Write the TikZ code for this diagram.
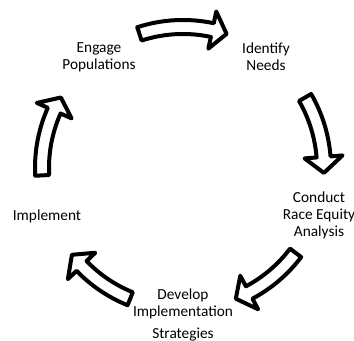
\documentclass[tikz,border=0pt]{standalone}
\usepackage{fontspec}
\setmainfont{Carlito}
\tikzset{
    cyclearrow/.style={draw=black,fill=white,line width=3pt,line join=round},
    steplabel/.style={align=center,inner sep=0pt,font=\fontsize{11.5}{12.8}\selectfont}
}
\begin{document}
\begin{tikzpicture}[x=0.75pt,y=0.75pt]
    \useasboundingbox (-183,-173) rectangle (171,168);

    % Step labels
    \node (engage) at (-84,111) [steplabel] {Engage\\Populations};
    \node (identify) at (83,111) [steplabel] {Identify\\Needs};
    \node (conduct) at (136,-47) [steplabel] {Conduct\\Race Equity\\Analysis};
    \node (develop) at (0,-147) [steplabel] {Develop\\Implementation\\[3pt]Strategies};
    \node (implement) at (-136,-48) [steplabel] {Implement};

    % Engage -> Identify
    \draw [cyclearrow] (108:148) arc [start angle=108,end angle=78,radius=148]
        -- (78:160) -- (72:141) -- (78:122) -- (78:134)
        arc [start angle=78,end angle=108,radius=134] -- cycle;

    % Identify -> Conduct
    \draw [cyclearrow] (30:148) arc [start angle=30,end angle=4.5,radius=148]
        -- (4.5:160) -- (-2:141) -- (4.5:122) -- (4.5:134)
        arc [start angle=4.5,end angle=30,radius=134] -- cycle;

    % Conduct -> Develop
    \draw [cyclearrow] (-37:148) arc [start angle=-37,end angle=-62,radius=148]
        -- (-62:160) -- (-68:141) -- (-62:122) -- (-62:134)
        arc [start angle=-62,end angle=-37,radius=134] -- cycle;

    % Develop -> Implement
    \draw [cyclearrow] (-112:148) arc [start angle=-112,end angle=-136,radius=148]
        -- (-136:160) -- (-142:141) -- (-136:122) -- (-136:134)
        arc [start angle=-136,end angle=-112,radius=134] -- cycle;

    % Implement -> Engage
    \draw [cyclearrow] (183:148) arc [start angle=183,end angle=156,radius=148]
        -- (156:160) -- (150:141) -- (156:122) -- (156:134)
        arc [start angle=156,end angle=183,radius=134] -- cycle;
\end{tikzpicture}
\end{document}
